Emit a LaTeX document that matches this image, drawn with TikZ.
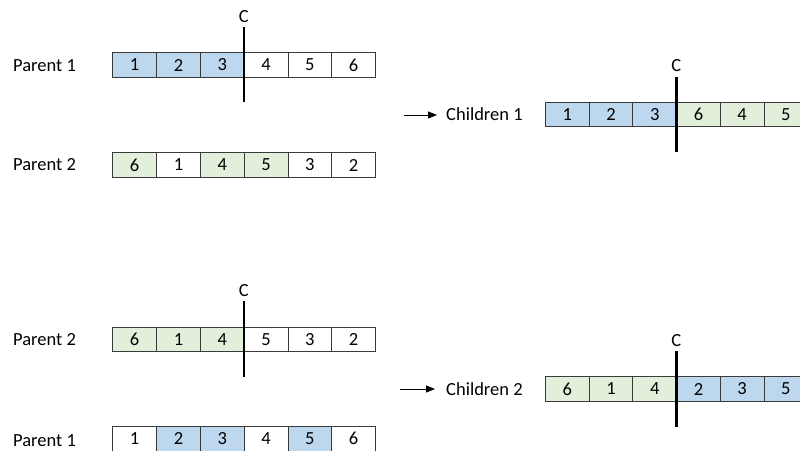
\documentclass[tikz,border=0pt]{standalone}
\usepackage{fontspec}
\setmainfont{Carlito}
\usetikzlibrary{arrows.meta}
\definecolor{blu}{HTML}{BDD7EE}
\definecolor{grn}{HTML}{E2EFDA}
\definecolor{wht}{HTML}{FFFFFF}
\definecolor{edge}{HTML}{3A3A3A}
\tikzset{
  cell/.style={draw=edge, line width=0.9pt, minimum width=43.8pt, minimum height=24.5pt,
    inner sep=0pt, anchor=north west, font=\fontsize{18.5}{21}\selectfont},
  lbl/.style={inner sep=0pt, anchor=base west, font=\fontsize{18.5}{21}\selectfont},
  clbl/.style={inner sep=0pt, anchor=base, font=\fontsize{18.5}{21}\selectfont},
  cutline/.style={line width=2.6pt, black},
  arr/.style={line width=0.9pt, -{Triangle[length=9pt,width=7pt]}}
}
\begin{document}
\begin{tikzpicture}[x=1pt,y=-1pt]
\useasboundingbox (0,0) rectangle (800,450);
\clip (0,0) rectangle (800,450);
% labels
\node[lbl] (lp1) at (13,71.7) {Parent 1};
\node[lbl] (lp2) at (13,170.7) {Parent 2};
\node[lbl] (lp2b) at (13,345.7) {Parent 2};
\node[lbl] (lp1b) at (13,446) {Parent 1};
\node[lbl] (lc1) at (446,120.7) {Children 1};
\node[lbl] (lc2) at (446,395.7) {Children 2};
% rows
\foreach \v/\f [count=\i from 0] in {1/blu,2/blu,3/blu,4/wht,5/wht,6/wht}
  \node[cell, fill=\f] (pa-\i) at (112.3+\i*43.8, 52.3) {\v};
\foreach \v/\f [count=\i from 0] in {6/grn,1/wht,4/grn,5/grn,3/wht,2/wht}
  \node[cell, fill=\f] (pb-\i) at (112.3+\i*43.8, 152.3) {\v};
\foreach \v/\f [count=\i from 0] in {1/blu,2/blu,3/blu,6/grn,4/grn,5/grn}
  \node[cell, fill=\f] (ca-\i) at (545+\i*43.7, 101.7) {\v};
\foreach \v/\f [count=\i from 0] in {6/grn,1/grn,4/grn,5/wht,3/wht,2/wht}
  \node[cell, fill=\f] (pc-\i) at (112.3+\i*43.8, 326.7) {\v};
\foreach \v/\f [count=\i from 0] in {1/wht,2/blu,3/blu,4/wht,5/blu,6/wht}
  \node[cell, fill=\f] (pd-\i) at (112.3+\i*43.8, 426) {\v};
\foreach \v/\f [count=\i from 0] in {6/grn,1/grn,4/grn,2/blu,3/blu,5/blu}
  \node[cell, fill=\f] (cb-\i) at (545+\i*43.7, 376.3) {\v};
% cut lines
\coordinate (k1t) at (243.8,26.7); \coordinate (k1b) at (243.8,101.7);
\coordinate (k2t) at (676.2,76.7); \coordinate (k2b) at (676.2,151.7);
\coordinate (k3t) at (243.8,301); \coordinate (k3b) at (243.8,376.7);
\coordinate (k4t) at (676.2,351); \coordinate (k4b) at (676.2,426.7);
\foreach \k in {1,2,3,4} \draw[cutline] (k\k t) -- (k\k b);
\node[clbl] (c1) at (243.8,22) {C};
\node[clbl] (c2) at (676.2,71.5) {C};
\node[clbl] (c3) at (243.8,296.3) {C};
\node[clbl] (c4) at (676.2,346) {C};
% arrows
\coordinate (a1) at (404,115);
\coordinate (a2) at (400,389);
\draw[arr, shorten >=9pt] (a1) -- (a1 -| lc1.west);
\draw[arr, shorten >=11pt] (a2) -- (a2 -| lc2.west);
\end{tikzpicture}
\end{document}
